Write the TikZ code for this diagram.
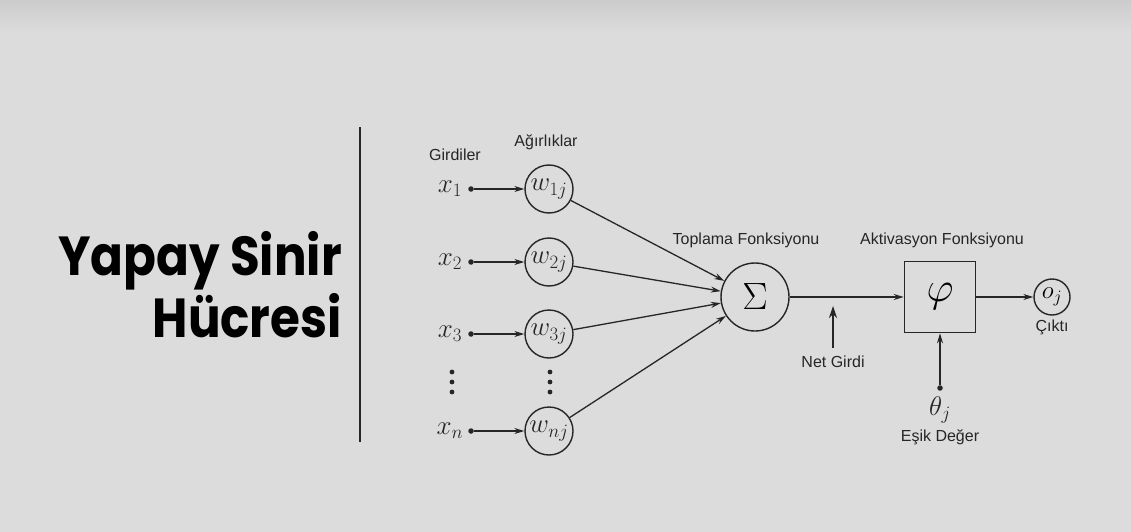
\RequirePackage{fix-cm}
\documentclass[tikz,border=0pt]{standalone}
\usepackage{fontspec}
\setmainfont{Liberation Sans}
\newfontfamily\titlefont{Poppins}
\usetikzlibrary{arrows.meta, positioning}
\definecolor{bggray}{RGB}{220,220,220}
\definecolor{topgray}{RGB}{204,204,204}
\definecolor{ink}{RGB}{38,38,38}

\begin{document}
\begin{tikzpicture}[x=1pt, y=-1pt,
    weight/.style={circle, draw=ink, line width=1.4pt, minimum size=48pt,
        inner sep=0pt, text=ink, font=\fontsize{27}{27}\selectfont},
    lbl/.style={text=ink, inner sep=1pt, font=\fontsize{16}{16}\selectfont},
    xlab/.style={text=ink, inner sep=1pt, font=\fontsize{27}{27}\selectfont},
    conn/.style={draw=ink, line width=1.3pt, -{Stealth[length=10pt,width=6pt]}},
    dot/.style={circle, fill=ink, inner sep=0pt, minimum size=5.5pt},
    title/.style={text=black, inner sep=0pt, font=\titlefont\bfseries\fontsize{55}{55}\selectfont}]

    % background
    \fill[bggray] (0,0) rectangle (1131,532);
    \shade[top color=topgray, bottom color=bggray] (0,0) rectangle (1131,34);

    % title
    \node[title, anchor=base east] (t1) at (342,275) {\scalebox{0.88}[1]{Yapay Sinir}};
    \node[title, anchor=base east] (t2) at (342,337) {\scalebox{0.88}[1]{Hücresi}};
    \draw[ink, line width=1.3pt] (360,127) -- (360,442);

    % summation and activation
    \node[circle, draw=ink, line width=1.4pt, minimum size=68pt, inner sep=0pt,
        font=\fontsize{38}{38}\selectfont] (sum) at (755,297) {$\Sigma$};
    \node[draw=ink, line width=1.6pt, minimum size=71pt, inner sep=0pt,
        font=\fontsize{42}{42}\selectfont] (phi) at (940,297) {$\varphi$};
    \node[circle, draw=ink, line width=1.4pt, minimum size=36pt, inner sep=0pt,
        font=\fontsize{25}{25}\selectfont] (out) at (1052,297) {$o_j$};

    \node[lbl] (girdiler) at (455,155) {Girdiler};
    \node[lbl] (agirlik) at (546,142) {Ağırlıklar};
    \node[lbl] (toplama) at (746,240) {Toplama Fonksiyonu};
    \node[lbl] (aktiv) at (942,240) {Aktivasyon Fonksiyonu};
    \node[lbl, below=3pt of out] (cikti) {Çıktı};

    % inputs and weights
    \foreach \i/\y/\s in {1/189/1, 2/262/2, 3/334/3, n/431/n} {
        \node[xlab] (x\i) at (450,\y) {$x_{\s}$};
        \node[dot] (d\i) at (471,\y) {};
        \node[weight] (w\i) at (549,\y) {$w_{\s j}$};
        \draw[conn] (d\i) -- (w\i);
        \draw[conn] (w\i) -- (sum);
    }
    \foreach \x in {452,550}
        \foreach \y in {372,382,392}
            \fill[ink] (\x,\y) circle (2.4pt);

    \draw[conn] (sum) -- (phi);
    \draw[conn] (phi) -- (out);

    % net input
    \coordinate (netlow) at (833,348);
    \coordinate (nethigh) at (833,306);
    \draw[draw=ink, line width=1.3pt, -{Stealth[length=12pt,width=8pt]}] (netlow) -- (nethigh);
    \node[lbl] (net) at (833,362) {Net Girdi};

    % threshold
    \node[dot] (td) at (940,388) {};
    \draw[conn] (td) -- (phi);
    \node[xlab] (theta) at (940,410) {$\theta_j$};
    \node[lbl] (esik) at (940,437) {Eşik Değer};

\end{tikzpicture}
\end{document}
